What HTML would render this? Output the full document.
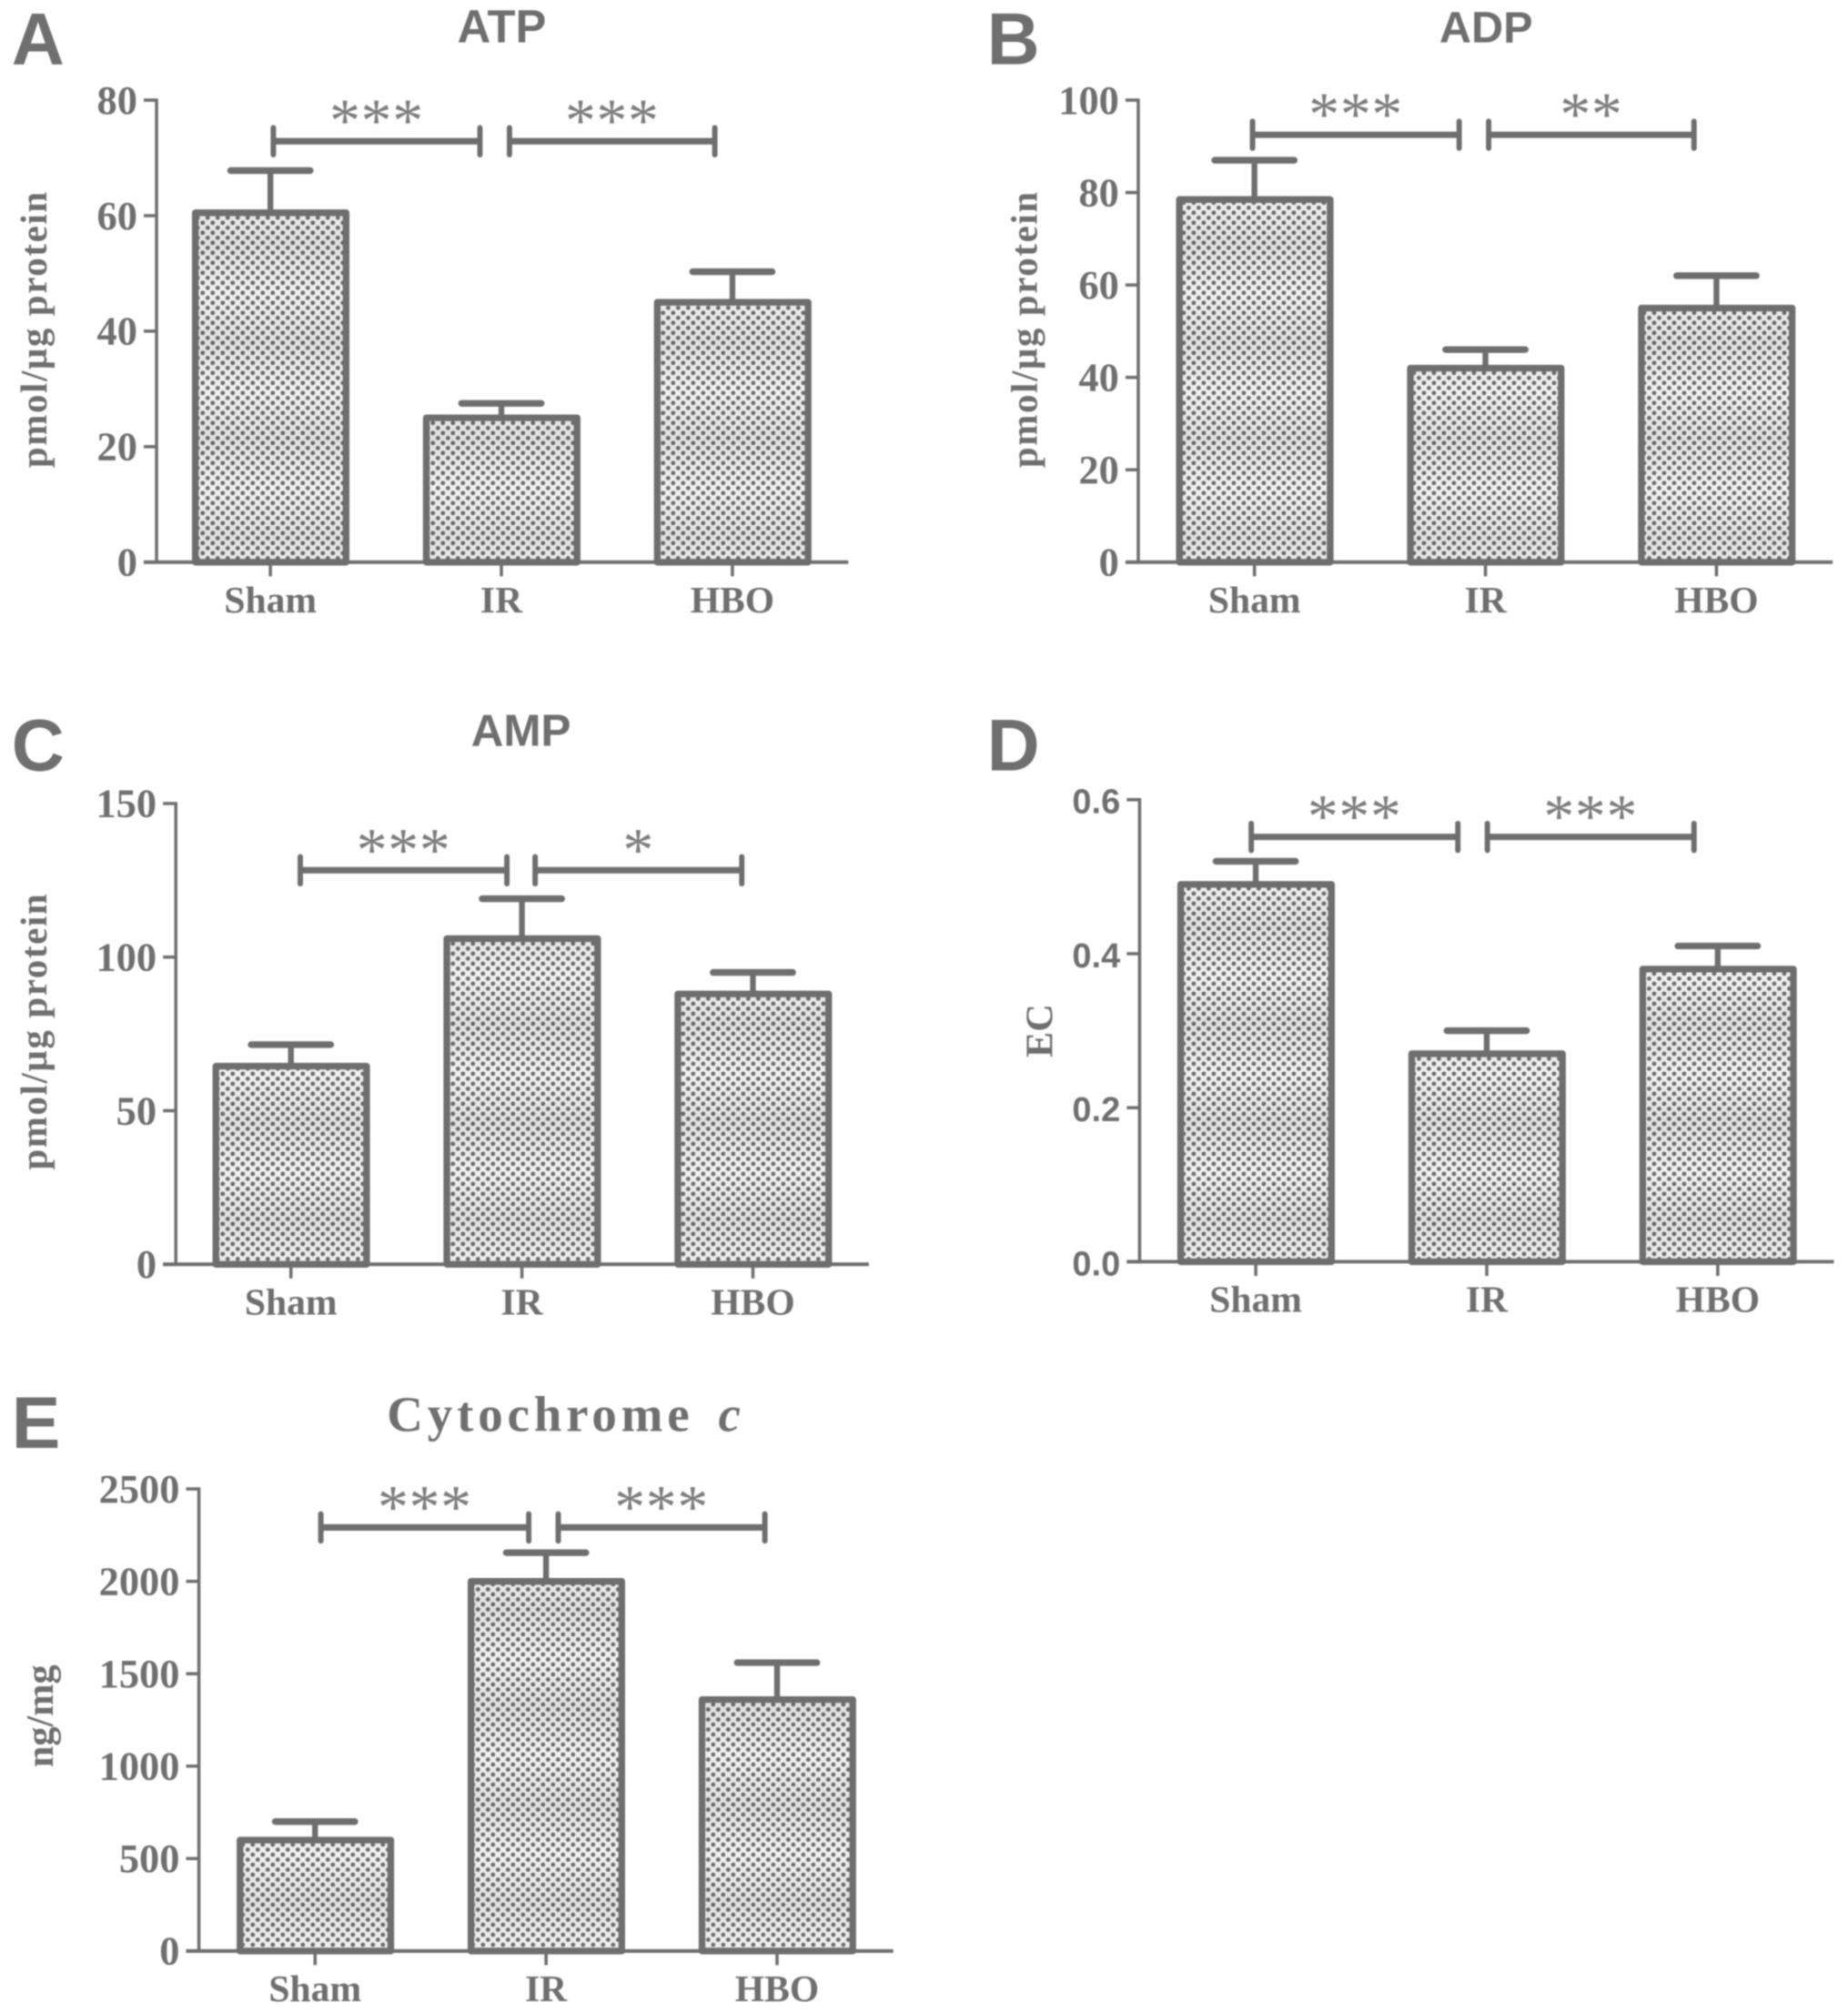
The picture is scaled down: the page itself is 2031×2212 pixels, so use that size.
<!DOCTYPE html>
<html lang="en">
<head>
<meta charset="utf-8">
<title>Energy metabolites and cytochrome c bar charts</title>
<style>
html,body{margin:0;padding:0;background:#fff;width:2031px;height:2212px;overflow:hidden}
svg{display:block;filter:blur(0.8px)}
text{fill:#6f6f6f}
.serif{font-family:"Liberation Serif",serif;font-weight:bold}
.sans{font-family:"Liberation Sans",sans-serif;font-weight:bold}
</style>
</head>
<body>
<svg id="fig" xmlns="http://www.w3.org/2000/svg" width="2031" height="2212" viewBox="0 0 1440 1568.3">
<defs>
<pattern id="dots" patternUnits="userSpaceOnUse" width="7.8" height="7.8">
<rect width="7.8" height="7.8" fill="#f1f1f1"/>
<circle cx="1.95" cy="1.95" r="1.7" fill="#6c6c6c"/>
<circle cx="5.85" cy="5.85" r="1.7" fill="#6c6c6c"/>
</pattern>
<linearGradient id="bandGrad" x1="0" y1="0" x2="0" y2="1">
<stop offset="0" stop-color="#000" stop-opacity="0"/>
<stop offset="0.5" stop-color="#000" stop-opacity="0.07"/>
<stop offset="1" stop-color="#000" stop-opacity="0"/>
</linearGradient>
<pattern id="bands" patternUnits="userSpaceOnUse" width="10" height="76">
<rect width="10" height="76" fill="url(#bandGrad)"/>
</pattern>
</defs>
</svg>
<script>
const categories = ['Sham', 'IR', 'HBO'];

const atpValues = [60.5, 25, 45];
const atpErrors = [7.3, 2.5, 5.3];
const atpTicks = [0, 20, 40, 60, 80];
const atpSig = ['***', '***'];

const adpValues = [78.5, 42, 55];
const adpErrors = [8.5, 4, 7];
const adpTicks = [0, 20, 40, 60, 80, 100];
const adpSig = ['***', '**'];

const ampValues = [64.5, 106, 88];
const ampErrors = [7, 13, 7];
const ampTicks = [0, 50, 100, 150];
const ampSig = ['***', '*'];

const ecValues = [0.49, 0.27, 0.38];
const ecErrors = [0.03, 0.03, 0.03];
const ecTicks = ['0.0', '0.2', '0.4', '0.6'];
const ecSig = ['***', '***'];

const cytValues = [600, 2000, 1360];
const cytErrors = [100, 155, 200];
const cytTicks = [0, 500, 1000, 1500, 2000, 2500];
const cytSig = ['***', '***'];

const panels = [
  {id:'a', letter:'A', lx:9, ly:50, title:'ATP', titleSize:36, tx:391, ty:33, ylabel:'pmol/\u03BCg protein', ylx:36, yly:257, ylen:215,
   axisX:122, y0:438, yTop:78, xEnd:661, c0:210.7, step:180, values:atpValues, errors:atpErrors, ticks:atpTicks, sig:atpSig,
   brY:110, br:[[213,374],[397,557]]},
  {id:'b', letter:'B', lx:769, ly:50, title:'ADP', titleSize:34.5, tx:1158, ty:33, ylabel:'pmol/\u03BCg protein', ylx:808, yly:257, ylen:215,
   axisX:887, y0:438, yTop:78, xEnd:1428, c0:977.5, step:180, values:adpValues, errors:adpErrors, ticks:adpTicks, sig:adpSig,
   brY:105, br:[[976,1137],[1160,1320]]},
  {id:'c', letter:'C', lx:9, ly:600, title:'AMP', titleSize:35, tx:406, ty:581, ylabel:'pmol/\u03BCg protein', ylx:36, yly:804, ylen:215,
   axisX:137, y0:985, yTop:626, xEnd:677, c0:226.7, step:180, values:ampValues, errors:ampErrors, ticks:ampTicks, sig:ampSig,
   brY:678, br:[[234,395],[417,578]]},
  {id:'d', letter:'D', lx:769, ly:600, title:'', titleSize:0, tx:0, ty:0, ylabel:'EC', ylx:820, yly:803, ylen:0,
   axisX:888, y0:983, yTop:623, xEnd:1429, c0:978.5, step:180, values:ecValues, errors:ecErrors, ticks:ecTicks, sig:ecSig,
   brY:652, br:[[975,1136],[1159,1320]], tickSans:true},
  {id:'e', letter:'E', lx:9, ly:1128, title:'Cytochrome', titleSize:39, tx:441, ty:1115, ylabel:'ng/mg', ylx:41, yly:1337, ylen:0,
   axisX:155, y0:1520, yTop:1160, xEnd:696, c0:245.5, step:180, values:cytValues, errors:cytErrors, ticks:cytTicks, sig:cytSig,
   brY:1190, br:[[250,412],[435,596]], italicC:true}
];

const NS = 'http://www.w3.org/2000/svg';
const INK = '#6e6e6e';
const fig = document.getElementById('fig');

function mk(tag, parent, attrs) {
  const el = document.createElementNS(NS, tag);
  for (const k in attrs) el.setAttribute(k, attrs[k]);
  parent.appendChild(el);
  return el;
}
function line(parent, x1, y1, x2, y2, w, cap) {
  return mk('line', parent, {x1:x1, y1:y1, x2:x2, y2:y2, stroke:INK, 'stroke-width':w, 'stroke-linecap':cap || 'butt'});
}

panels.forEach(function (p) {
  const maxTick = Number(p.ticks[p.ticks.length - 1]);
  const yScale = function (v) { return p.y0 - (v / maxTick) * (p.y0 - p.yTop); };
  const xScale = function (i) { return p.c0 + i * p.step; };

  const g = mk('g', fig, {});
  
  

  const letter = mk('text', g, {x:p.lx, y:p.ly, class:'sans', 'font-size':57});
  letter.textContent = p.letter;
  
  

  if (p.title) {
    const title = mk('text', g, {x:p.tx, y:p.ty, 'text-anchor':'middle', 'font-size':p.titleSize});
    
    
    if (p.italicC) {
      title.setAttribute('class', 'serif');
      title.setAttribute('letter-spacing', 3.4);
      const t1 = mk('tspan', title, {});
      t1.textContent = p.title + ' ';
      const t2 = mk('tspan', title, {'font-style':'italic', dx:6});
      t2.textContent = 'c';
    } else {
      title.setAttribute('class', 'sans');
      title.textContent = p.title;
    }
  }

  const yl = mk('text', g, {class:'serif', 'font-size':p.ylen ? 29 : 30, 'text-anchor':'middle',
    transform:'translate(' + p.ylx + ' ' + p.yly + ') rotate(-90)'});
  if (p.ylen) {
    yl.setAttribute('textLength', p.ylen);
    yl.setAttribute('lengthAdjust', 'spacing');
  }
  yl.textContent = p.ylabel;
  
  

  p.values.forEach(function (v, i) {
    const cx = xScale(i);
    const top = yScale(v);
    const errTop = yScale(v + p.errors[i]);

    const stem = line(g, cx, top, cx, errTop, 4.5);
    
    

    const cap = line(g, cx - 31, errTop, cx + 31, errTop, 5.2, 'round');
    
    

    const bar = mk('rect', g, {x:cx - 58.5, y:top, width:117.5, height:p.y0 - top,
      fill:'url(#dots)', stroke:INK, 'stroke-width':5.2, 'stroke-linejoin':'round'});
    
    

    const band = mk('rect', g, {x:cx - 56, y:top + 2.6, width:112.5, height:p.y0 - top - 5.2, fill:'url(#bands)'});
    
    

    const tick = line(g, cx, p.y0, cx, p.y0 + 11, 2.5);
    
    

    const lab = mk('text', g, {x:cx, y:p.y0 + 39, class:'serif', 'font-size':29.5, 'text-anchor':'middle'});
    lab.textContent = categories[i];
    
    
  });

  const yAxis = line(g, p.axisX, p.yTop - 1.2, p.axisX, p.y0, 2.5);
  
  

  const xAxis = line(g, p.axisX - 10, p.y0, p.xEnd, p.y0, 2.8);
  
  

  p.ticks.forEach(function (t) {
    const y = yScale(Number(t));
    const tk = line(g, p.axisX - 10, y, p.axisX, y, 2.5);
    
    

    const lb = mk('text', g, {x:p.axisX - 15, y:y + 10.5, 'text-anchor':'end',
      class:p.tickSans ? 'sans' : 'serif', 'font-size':p.tickSans ? 27 : 31.5});
    lb.textContent = t;
    
    
  });

  p.br.forEach(function (b, i) {
    const h = line(g, b[0], p.brY, b[1], p.brY, 5);
    
    

    const l = line(g, b[0], p.brY - 10.5, b[0], p.brY + 10.5, 4.2, 'round');
    
    

    const r = line(g, b[1], p.brY - 10.5, b[1], p.brY + 10.5, 4.2, 'round');
    
    

    const s = mk('text', g, {x:(b[0] + b[1]) / 2, y:p.brY, 'text-anchor':'middle',
      'font-family':'"Liberation Serif",serif', 'font-size':48, 'letter-spacing':0.5, style:'fill:#7d7d7d'});
    s.textContent = p.sig[i];
    
    
  });
});
</script>
</body>
</html>
